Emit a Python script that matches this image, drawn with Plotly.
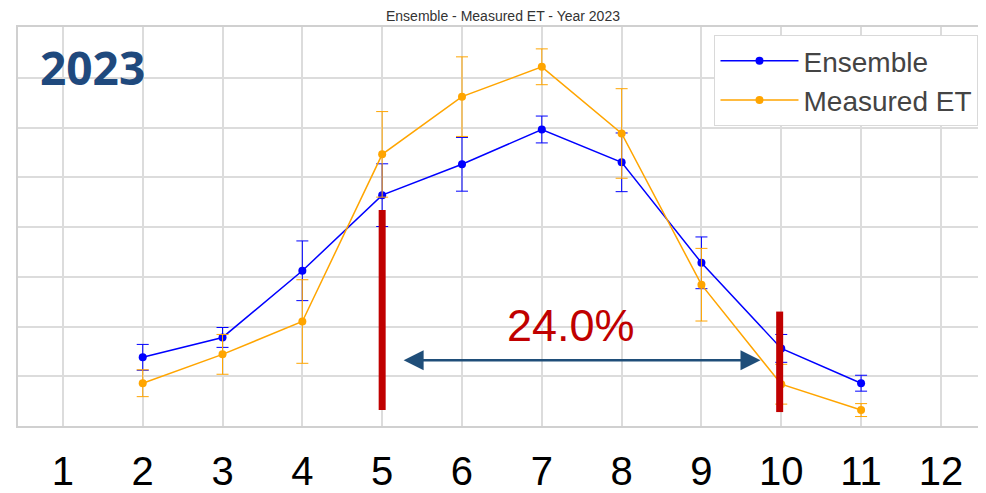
import plotly.graph_objects as go

months = [2, 3, 4, 5, 6, 7, 8, 9, 10, 11]
ensemble = [1.38, 1.78, 3.12, 4.64, 5.26, 5.96, 5.30, 3.28, 1.56, 0.86]
ensemble_err = [0.26, 0.20, 0.60, 0.63, 0.54, 0.27, 0.59, 0.52, 0.28, 0.16]
measured = [0.86, 1.44, 2.10, 5.46, 6.62, 7.22, 5.88, 2.84, 0.84, 0.32]
measured_err = [0.27, 0.40, 0.84, 0.86, 0.80, 0.36, 0.90, 0.73, 0.40, 0.13]
tick_vals = list(range(1, 13))
tick_text = [str(v) for v in tick_vals]

season_start, season_end = 5, 9.98
start_bar = [0.32, 4.34]
end_bar = [0.28, 2.30]
arrow_x = [5.25, 9.74]
arrow_y = 1.32
pct_label = "24.0%"

BLUE = "#0000FF"
ORANGE = "#FFA500"
RED = "#C00000"
NAVY = "#1F4E79"

fig = go.Figure()
fig.add_trace(go.Scatter(
    x=months, y=ensemble, name="Ensemble", mode="lines+markers",
    line=dict(color=BLUE, width=1.5), marker=dict(color=BLUE, size=8),
    error_y=dict(type="data", array=ensemble_err, color=BLUE, thickness=1, width=6),
))
fig.add_trace(go.Scatter(
    x=months, y=measured, name="Measured ET", mode="lines+markers",
    line=dict(color=ORANGE, width=1.5), marker=dict(color=ORANGE, size=8),
    error_y=dict(type="data", array=measured_err, color=ORANGE, thickness=1, width=6),
))

fig.add_shape(type="line", x0=season_start, x1=season_start, y0=start_bar[0], y1=start_bar[1],
              xref="x", yref="y", line=dict(color=RED, width=7))
fig.add_shape(type="line", x0=season_end, x1=season_end, y0=end_bar[0], y1=end_bar[1],
              xref="x", yref="y", line=dict(color=RED, width=7))

fig.add_annotation(x=arrow_x[1], y=arrow_y, ax=arrow_x[0], ay=arrow_y,
                   xref="x", yref="y", axref="x", ayref="y", text="",
                   showarrow=True, arrowside="end+start", arrowhead=2,
                   arrowsize=1.6, arrowwidth=2.5, arrowcolor=NAVY)
fig.add_annotation(x=7.36, y=2.02, xref="x", yref="y", text=pct_label, showarrow=False,
                   font=dict(family="Liberation Sans", size=45, color=RED),
                   xanchor="center", yanchor="middle")
fig.add_annotation(x=0.021, y=0.9, xref="paper", yref="paper", text="<b>2023</b>",
                   showarrow=False, xanchor="left", yanchor="middle",
                   font=dict(family="Open Sans", size=46, color="#1F497D"))

fig.update_layout(
    width=986, height=493,
    margin=dict(l=10, r=8, t=19, b=73),
    paper_bgcolor="white", plot_bgcolor="white",
    title=dict(text="Ensemble - Measured ET - Year 2023", x=0.502, xanchor="center",
               y=0.984, yanchor="middle", font=dict(family="Liberation Sans", size=14, color="#333333")),
    legend=dict(x=0.721, y=0.98, xanchor="left", yanchor="top",
                bgcolor="white", bordercolor="#d9d9d9", borderwidth=1, itemwidth=78,
                font=dict(family="Liberation Sans", size=28, color="#444444")),
    showlegend=True,
)
fig.update_xaxes(range=[0.4375, 12.54], tickvals=tick_vals, ticktext=tick_text,
                 showgrid=True, gridcolor="#dcdcdc", gridwidth=1.5,
                 showline=True, linecolor="#d0d0d0", linewidth=1.5, mirror=True,
                 ticks="", ticklabelstandoff=9,
                 tickfont=dict(family="Liberation Sans", size=40, color="black"),
                 zeroline=False)
fig.update_yaxes(range=[0, 8.02], dtick=1, showgrid=True, gridcolor="#dcdcdc", gridwidth=1.5,
                 showline=True, linecolor="#d0d0d0", linewidth=1.5, mirror=True,
                 showticklabels=False, ticks="", zeroline=False)

fig.write_html("out.html")
